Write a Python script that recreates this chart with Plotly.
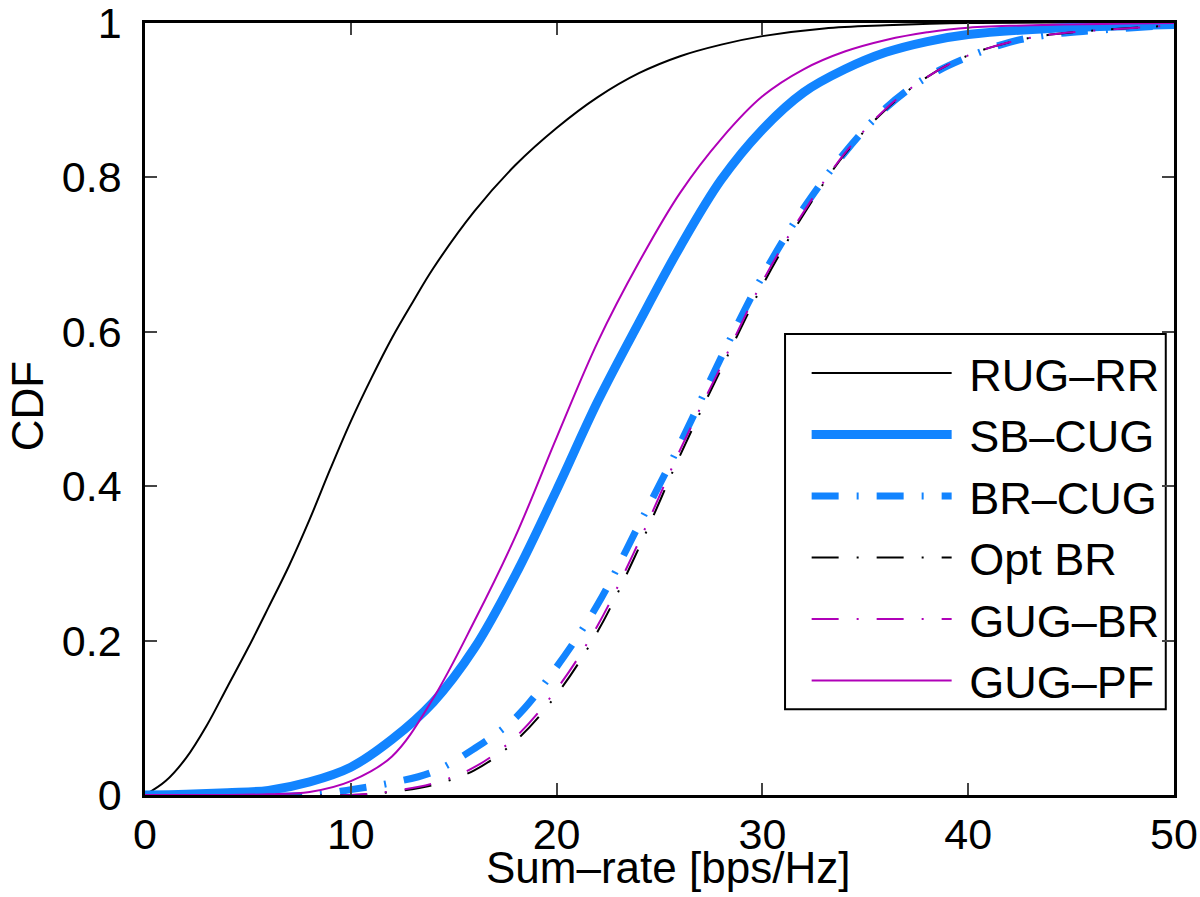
import plotly.graph_objects as go

# ---- data ----
rug_rr_x = [0, 1, 2, 3, 4, 5, 6, 7, 8, 9, 10, 11, 12, 13, 14, 16, 18, 20, 22, 24, 26, 28, 30, 33, 36, 40, 50]
rug_rr_y = [0, 0.018, 0.048, 0.09, 0.14, 0.19, 0.243, 0.297, 0.357, 0.422, 0.484, 0.54, 0.592, 0.638, 0.682,
            0.756, 0.816, 0.864, 0.904, 0.935, 0.957, 0.972, 0.983, 0.993, 0.997, 1.0, 1.0]

sb_cug_x = [0, 2, 4, 6, 8, 10, 12, 14, 16, 18, 20, 22, 24, 26, 28, 30, 32, 34, 36, 38, 40, 44, 50]
sb_cug_y = [0, 0.001, 0.003, 0.006, 0.017, 0.036, 0.072, 0.12, 0.19, 0.285, 0.395, 0.51, 0.612, 0.71,
            0.797, 0.862, 0.91, 0.94, 0.962, 0.976, 0.985, 0.993, 0.998]

br_cug_x = [0, 8, 10, 12, 14, 16, 18, 20, 22, 24, 26, 28, 30, 32, 34, 36, 38, 40, 42, 44, 46, 50]
br_cug_y = [0, 0.0, 0.007, 0.016, 0.03, 0.06, 0.1, 0.166, 0.247, 0.35, 0.455, 0.567, 0.672, 0.76,
            0.832, 0.89, 0.93, 0.956, 0.975, 0.985, 0.99, 0.997]

opt_br_x = [0, 10, 12, 14, 16, 18, 20, 22, 24, 26, 28, 30, 32, 34, 36, 38, 40, 42, 44, 46, 50]
opt_br_y = [0, 0.0, 0.004, 0.013, 0.032, 0.07, 0.13, 0.212, 0.32, 0.44, 0.552, 0.66, 0.752, 0.83,
            0.888, 0.93, 0.958, 0.975, 0.985, 0.99, 0.997]

gug_br_x = [0, 10, 12, 14, 16, 18, 20, 22, 24, 26, 28, 30, 32, 34, 36, 38, 40, 42, 44, 46, 50]
gug_br_y = [0, 0.0, 0.005, 0.015, 0.036, 0.075, 0.137, 0.22, 0.328, 0.447, 0.556, 0.665, 0.755, 0.831,
            0.889, 0.93, 0.958, 0.975, 0.985, 0.99, 0.997]

gug_pf_x = [0, 4, 6, 8, 10, 12, 14, 16, 18, 20, 22, 24, 26, 28, 30, 32, 34, 36, 38, 40, 50]
gug_pf_y = [0, 0.0, 0.001, 0.004, 0.018, 0.05, 0.125, 0.225, 0.335, 0.463, 0.587, 0.69, 0.78, 0.85,
            0.905, 0.94, 0.963, 0.978, 0.988, 0.994, 1.0]

x_ticks = [0, 10, 20, 30, 40, 50]
y_ticks = [0, 0.2, 0.4, 0.6, 0.8, 1]
y_tick_text = ["0", "0.2", "0.4", "0.6", "0.8", "1"]

BLUE = "#1284FF"
MAG = "#B000B8"
DASHDOT = "27px,18px,2px,18px"
NB = "\u00a0"

series = [
    ("RUG\u2013RR", rug_rr_x, rug_rr_y, "black", 2, "solid"),
    ("SB\u2013CUG", sb_cug_x, sb_cug_y, BLUE, 9, "solid"),
    ("BR\u2013CUG", br_cug_x, br_cug_y, BLUE, 7, DASHDOT),
    ("Opt BR", opt_br_x, opt_br_y, "black", 2, DASHDOT),
    ("GUG\u2013BR", gug_br_x, gug_br_y, MAG, 2, DASHDOT),
    ("GUG\u2013PF", gug_pf_x, gug_pf_y, MAG, 2, "solid"),
]

fig = go.Figure()
for i, (name, xs, ys, col, w, dash) in enumerate(series):
    fig.add_trace(go.Scatter(
        x=xs, y=ys, mode="lines", name=NB + name, legendgroup=f"g{i}",
        line=dict(color=col, width=w, dash=dash, shape="spline", smoothing=1.0),
    ))

FONT = "Liberation Sans, Arial, Helvetica, sans-serif"

# legend frame
fig.add_shape(type="rect", xref="paper", yref="paper",
              x0=0.622, x1=0.992, y0=0.111, y1=0.597,
              line=dict(color="black", width=2), fillcolor="white", layer="below")

fig.update_layout(
    width=1200, height=897,
    margin=dict(l=145, r=26, t=23, b=102, autoexpand=False),
    paper_bgcolor="white", plot_bgcolor="white",
    font=dict(family=FONT, size=43, color="black"),
    showlegend=True,
    legend=dict(
        x=0.643, y=0.593, xanchor="left", yanchor="top",
        bgcolor="rgba(0,0,0,0)", borderwidth=0,
        font=dict(family=FONT, size=45, color="black"),
        itemwidth=140, tracegroupgap=0, traceorder="grouped",
    ),
    xaxis=dict(
        range=[0, 50], tickvals=x_ticks, ticks="inside", ticklen=12, tickwidth=2,
        showline=True, linecolor="black", linewidth=2.5, mirror="ticks",
        showgrid=False, zeroline=False, automargin=False, ticklabeloverflow="allow",
        tickfont=dict(size=43), ticklabelstandoff=0,
    ),
    yaxis=dict(
        range=[0, 1], tickvals=y_ticks, ticktext=y_tick_text, ticks="inside", ticklen=12, tickwidth=2,
        showline=True, linecolor="black", linewidth=2.5, mirror="ticks",
        showgrid=False, zeroline=False, automargin=False, ticklabeloverflow="allow",
        tickfont=dict(size=43), ticklabelstandoff=12,
    ),
    annotations=[
        dict(text="Sum\u2013rate [bps/Hz]", xref="paper", yref="paper", x=0.508, y=-0.0935,
             xanchor="center", yanchor="middle", showarrow=False, font=dict(size=44)),
        dict(text="CDF", xref="paper", yref="paper", x=-0.1399, y=0.503, textangle=-90,
             xanchor="left", yanchor="middle", showarrow=False, font=dict(size=44)),
    ],
)

fig.write_html("out.html", config={"displayModeBar": False},
               post_script="document.body.style.margin='0';")
